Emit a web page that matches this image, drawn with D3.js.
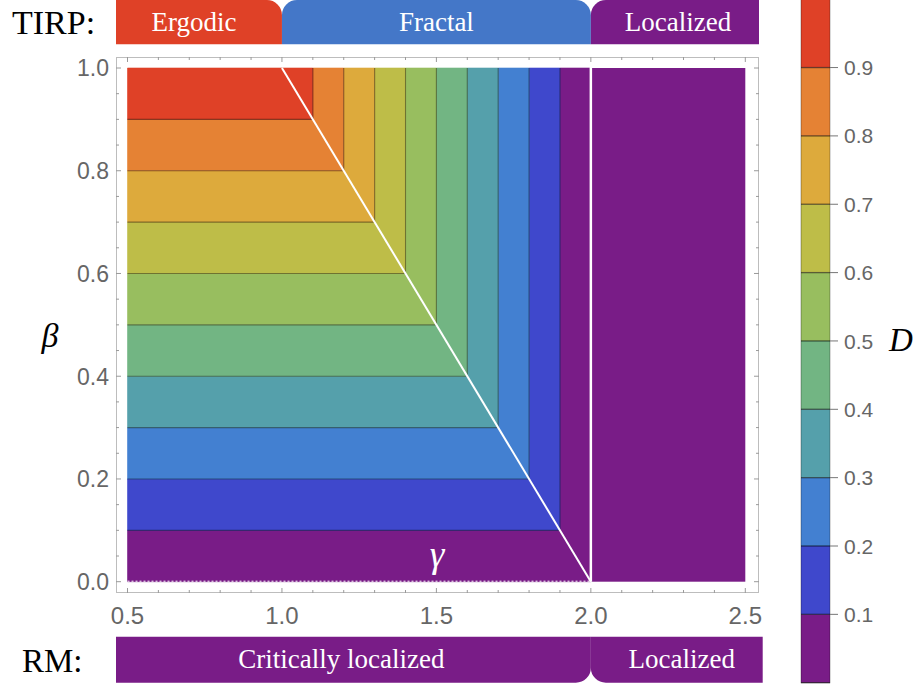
<!DOCTYPE html>
<html><head><meta charset="utf-8">
<script src="https://cdn.jsdelivr.net/npm/d3@7"></script>
<style>body{margin:0;background:#fff}svg{display:block}</style>
</head><body><svg id="c" width="915" height="688"></svg>
<script>
// ---- data ----
const levels = [0.0, 0.1, 0.2, 0.3, 0.4, 0.5, 0.6, 0.7, 0.8, 0.9, 1.0];
const bandColors = ["#791C87", "#3F48CC", "#4380D1", "#55A0AB", "#72B583", "#98BE5F", "#BEBD48", "#DDAA3C", "#E58234", "#DF4127"];
const gammaDomain = [0.5, 2.5];
const betaDomain = [0.0, 1.0];
const gammaCritical = 2.0;                 // D = min(beta, 2 - gamma) for gamma < 2, D = 0 beyond
const boundaryLine = [[1.0, 1.0], [2.0, 0.0]];
const gammaTicks = [0.5, 1.0, 1.5, 2.0, 2.5];
const gammaTickLabels = ["0.5", "1.0", "1.5", "2.0", "2.5"];
const betaTicks = [0.0, 0.2, 0.4, 0.6, 0.8, 1.0];
const betaTickLabels = ["0.0", "0.2", "0.4", "0.6", "0.8", "1.0"];
const colorbarTicks = [0.1, 0.2, 0.3, 0.4, 0.5, 0.6, 0.7, 0.8, 0.9];
const tirpLabels = ["Ergodic", "Fractal", "Localized"];
const tirpBounds = [0.5, 1.0, 2.0, 2.5];
const tirpColors = ["#DF4127", "#4477C8", "#791C87"];
const rmLabels = ["Critically localized", "Localized"];
const rmBounds = [0.5, 2.0, 2.5];
const rmColors = ["#791C87", "#791C87"];

// ---- layout ----
const svg = d3.select("#c");
const x = d3.scaleLinear(gammaDomain, [127.5, 745.3]);
const y = d3.scaleLinear(betaDomain, [581.7, 68]);
const frame = {x0: 116, x1: 759, y0: 57, y1: 593};
const serif = "'Liberation Serif', 'DejaVu Serif', serif";
const sans = "'Liberation Sans', Arial, sans-serif";

// contour bands
const g = svg.append("g");
for (let k = 0; k < bandColors.length; k++) {
  const a = levels[k], b = levels[k + 1];
  const pts = [[gammaDomain[0], a], [gammaCritical - a, a], [gammaCritical - a, betaDomain[1]],
               [gammaCritical - b, betaDomain[1]], [gammaCritical - b, b], [gammaDomain[0], b]];
  g.append("path").attr("d", d3.line().x(d => x(d[0])).y(d => y(d[1]))(pts) + "Z")
    .attr("fill", bandColors[k]).attr("stroke", bandColors[k]).attr("stroke-width", 0.6);
}
// localized region gamma > 2
g.append("rect").attr("x", x(gammaCritical)).attr("y", y(betaDomain[1]))
  .attr("width", x(gammaDomain[1]) - x(gammaCritical)).attr("height", y(betaDomain[0]) - y(betaDomain[1]))
  .attr("fill", bandColors[0]);
// contour lines
for (let k = 1; k < levels.length - 1; k++) {
  const l = levels[k];
  const pts = [[gammaDomain[0], l], [gammaCritical - l, l], [gammaCritical - l, betaDomain[1]]];
  g.append("path").attr("d", d3.line().x(d => x(d[0])).y(d => y(d[1]))(pts))
    .attr("fill", "none").attr("stroke", "#000").attr("stroke-opacity", 0.4).attr("stroke-width", 1.1);
}
// white lines
g.append("line").attr("x1", x(boundaryLine[0][0])).attr("y1", y(boundaryLine[0][1]))
  .attr("x2", x(boundaryLine[1][0])).attr("y2", y(boundaryLine[1][1]))
  .attr("stroke", "#fff").attr("stroke-width", 2);
g.append("line").attr("x1", x(gammaCritical)).attr("x2", x(gammaCritical))
  .attr("y1", y(betaDomain[1]) - 1).attr("y2", y(betaDomain[0]))
  .attr("stroke", "#fff").attr("stroke-width", 2.5);
g.append("line").attr("x1", x(gammaDomain[0])).attr("x2", x(gammaCritical))
  .attr("y1", y(0) - 0.5).attr("y2", y(0) - 0.5)
  .attr("stroke", "#fff").attr("stroke-width", 1).attr("stroke-dasharray", "2,2");

// frame
svg.append("rect").attr("x", frame.x0 + 0.5).attr("y", frame.y0 + 0.5)
  .attr("width", frame.x1 - frame.x0 - 1).attr("height", frame.y1 - frame.y0 - 1)
  .attr("fill", "none").attr("stroke", "#bdbdbd").attr("stroke-width", 1);

// ticks
const tk = svg.append("g").attr("stroke", "#9a9a9a").attr("stroke-width", 1);
const gMinor = d3.range(5, 26).map(v => v / 10);
gMinor.forEach(v => {
  const major = gammaTicks.some(t => Math.abs(t - v) < 1e-9);
  const len = major ? 5 : 3;
  tk.append("line").attr("x1", x(v)).attr("x2", x(v)).attr("y1", frame.y0).attr("y2", frame.y0 + len);
  tk.append("line").attr("x1", x(v)).attr("x2", x(v)).attr("y1", frame.y1).attr("y2", frame.y1 - len);
});
const bMinor = d3.range(0, 21).map(v => v / 20);
bMinor.forEach(v => {
  const major = betaTicks.some(t => Math.abs(t - v) < 1e-9);
  const len = major ? 5 : 3;
  tk.append("line").attr("y1", y(v)).attr("y2", y(v)).attr("x1", frame.x0).attr("x2", frame.x0 + len);
  tk.append("line").attr("y1", y(v)).attr("y2", y(v)).attr("x1", frame.x1).attr("x2", frame.x1 - len);
});
// tick labels
gammaTicks.forEach((t, i) => svg.append("text").attr("x", x(t)).attr("y", 624)
  .attr("text-anchor", "middle").attr("font-family", sans).attr("font-size", 24).attr("fill", "#666")
  .text(gammaTickLabels[i]));
betaTicks.forEach((t, i) => svg.append("text").attr("x", 109).attr("y", y(t)).attr("dy", "0.36em")
  .attr("text-anchor", "end").attr("font-family", sans).attr("font-size", 23).attr("fill", "#666")
  .text(betaTickLabels[i]));

// axis labels
svg.append("text").attr("x", 50).attr("y", 347).attr("text-anchor", "middle")
  .attr("font-family", serif).attr("font-style", "italic").attr("font-size", 34).text("β");
svg.append("text").attr("x", 437).attr("y", 567).attr("text-anchor", "middle")
  .attr("font-family", serif).attr("font-style", "italic").attr("font-size", 37).attr("fill", "#fff").text("γ");
svg.append("text").attr("x", 901).attr("y", 351).attr("text-anchor", "middle")
  .attr("font-family", serif).attr("font-style", "italic").attr("font-size", 33).text("D");

// colorbar
const cy = d3.scaleLinear([0, 1], [682.7, -0.8]);
const cb = svg.append("g");
for (let k = 0; k < bandColors.length; k++) {
  cb.append("rect").attr("x", 801).attr("width", 29)
    .attr("y", cy(levels[k + 1])).attr("height", cy(levels[k]) - cy(levels[k + 1]))
    .attr("fill", bandColors[k]);
}
cb.append("rect").attr("x", 801).attr("width", 29).attr("y", cy(1)).attr("height", cy(0) - cy(1))
  .attr("fill", "none").attr("stroke", "#000").attr("stroke-opacity", 0.3).attr("stroke-width", 1);
levels.forEach(l => cb.append("line").attr("x1", 801).attr("x2", 830).attr("y1", cy(l)).attr("y2", cy(l))
  .attr("stroke", "#000").attr("stroke-opacity", 0.55).attr("stroke-width", 1.3));
colorbarTicks.forEach(t => {
  cb.append("line").attr("x1", 830).attr("x2", 838).attr("y1", cy(t)).attr("y2", cy(t))
    .attr("stroke", "#777").attr("stroke-width", 1);
  cb.append("text").attr("x", 844).attr("y", cy(t)).attr("dy", "0.36em")
    .attr("font-family", sans).attr("font-size", 21).attr("fill", "#666").text(d3.format(".1f")(t));
});

// phase bars
function rrect(x0, x1, y0, y1, r) {
  const p = d3.path();
  p.moveTo(x0 + r.tl, y0);
  p.lineTo(x1 - r.tr, y0);
  if (r.tr) p.arcTo(x1, y0, x1, y0 + r.tr, r.tr);
  p.lineTo(x1, y1 - r.br);
  if (r.br) p.arcTo(x1, y1, x1 - r.br, y1, r.br);
  p.lineTo(x0 + r.bl, y1);
  if (r.bl) p.arcTo(x0, y1, x0, y1 - r.bl, r.bl);
  p.lineTo(x0, y0 + r.tl);
  if (r.tl) p.arcTo(x0, y0, x0 + r.tl, y0, r.tl);
  p.closePath();
  return p.toString();
}
const R = 15;
const edgeX = (bounds, i, left, right) => i === 0 ? left : (i === bounds.length - 1 ? right : x(bounds[i]));
tirpLabels.forEach((lab, i) => {
  const x0 = edgeX(tirpBounds, i, 116, 759), x1 = edgeX(tirpBounds, i + 1, 116, 759);
  const r = {tl: i > 0 ? R : 0, tr: i < tirpLabels.length - 1 ? R : 0, br: 0, bl: 0};
  svg.append("path").attr("d", rrect(x0, x1, 0, 44.3, r)).attr("fill", tirpColors[i]);
  svg.append("text").attr("x", (x0 + x1) / 2 - (i === 0 ? 5 : 0) + (i === 2 ? 3 : 0)).attr("y", 31)
    .attr("text-anchor", "middle").attr("font-family", serif).attr("font-size", 27).attr("fill", "#fff").text(lab);
});
rmLabels.forEach((lab, i) => {
  const x0 = edgeX(rmBounds, i, 116, 762.7), x1 = edgeX(rmBounds, i + 1, 116, 762.7);
  const r = {tl: 0, tr: 0, br: i < rmLabels.length - 1 ? R : 0, bl: i > 0 ? R : 0};
  svg.append("path").attr("d", rrect(x0, x1, 636.7, 682.7, r)).attr("fill", rmColors[i]);
  svg.append("text").attr("x", (x0 + x1) / 2 - (i === 0 ? 12 : 0) + (i === 1 ? 5 : 0)).attr("y", 668)
    .attr("text-anchor", "middle").attr("font-family", serif).attr("font-size", 27).attr("fill", "#fff").text(lab);
});
svg.append("text").attr("x", 12).attr("y", 34).attr("font-family", serif).attr("font-size", 34).text("TIRP:");
svg.append("text").attr("x", 22).attr("y", 672).attr("font-family", serif).attr("font-size", 33).text("RM:");
</script></body></html>
